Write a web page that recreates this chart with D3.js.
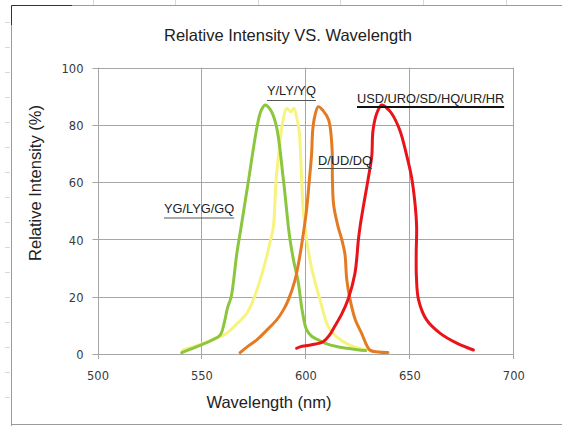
<!DOCTYPE html>
<html><head><meta charset="utf-8">
<script src="https://cdn.jsdelivr.net/npm/d3@7"></script>
<style>body{margin:0;background:#fff}svg{display:block}</style>
</head><body>
<svg id="c" width="562" height="426"></svg>
<script>
// ---- data ----
const xTicks = [500, 550, 600, 650, 700];
const yTicks = [0, 20, 40, 60, 80, 100];
const titleText = "Relative Intensity VS. Wavelength";
const xTitle = "Wavelength (nm)";
const yTitle = "Relative Intensity (%)";

const greenWl  = [540.5,545,550,555,559,561,562.5,564.3,567,569,572.5,576.9,578.7,580.6,583,585.9,589.4,591.8,592.6,594.5,596.4,598.5,600.6,603,606,610,615,620,625,629];
const greenInt = [0.5,1.8,3.2,4.8,6.6,11,16,20,35,44,60,80,85,87,85.5,80,61,44.5,40,32,25.8,15,8.4,6.2,5,3.6,2.6,2,1.5,1.2];

const yellowWl  = [541,548,555,562,567,571.8,575,578.2,581,583,584.6,585.9,587.5,589,591,593,594.5,596,597,598.2,599,600.6,603,607,611,615,621.5,627,632];
const yellowInt = [1.4,3,5,7.2,10.5,14.2,19,25.8,33,39,44.5,60.8,72,80.7,85.8,84.6,85.8,82,78,60.8,50,40,30,19,9.5,6,3,1.8,1.2];

const orangeWl  = [568.6,572,576.6,581,586.2,589.5,591.8,595,597.5,599,600.5,601.9,603,603.5,604.5,606.2,608.5,611.2,612.8,613,613.6,615.7,617.5,619,619.9,621.5,624,627,631,635,639.7];
const orangeInt = [0.5,2.5,4.9,8,11.9,15.5,18.9,25.8,35,42,50,60.8,70,78,83,86.4,85,81.7,72,60.8,52,44.5,40,35,26,19,12,7.3,1.4,0.7,0.5];

const redWl  = [595.8,597.4,603,608.5,611.5,614,617.5,620.5,623.8,625.5,626.3,628,630.1,631.9,632.5,634.3,636.7,639,641.5,645.5,648.5,651,652.8,653.5,653.3,653.4,654.4,658.3,664.7,672.8,680.8];
const redInt = [2,2.5,3.2,4.3,6.5,9.5,14,19,28,40,44.5,52,60.8,69,78,84,87,86,84,78,70,62,52,44.5,35,27,19,11.9,7.3,3.8,1.4];

const seriesNames  = ["YG/LYG/GQ", "Y/LY/YQ", "D/UD/DQ", "USD/URO/SD/HQ/UR/HR"];
const seriesColors = ["#8cc63e", "#f6f47e", "#e47b22", "#e8141a"];
// ---- chart ----
const svg = d3.select("#c");
const x = d3.scaleLinear().domain([500, 700]).range([97.5, 513.3]);
const y = d3.scaleLinear().domain([0, 100]).range([354, 67.7]);

// spreadsheet background remnants
const bg = svg.append("g").attr("stroke", "#d8d8d8").attr("stroke-width", 1);
[93, 175, 258, 340, 423, 506].forEach(v => bg.append("line").attr("x1", v + .5).attr("x2", v + .5).attr("y1", 0).attr("y2", 5));
[22, 47, 72, 97, 122, 147, 172, 197, 222, 247, 272, 297, 322, 347, 372, 397].forEach(v => bg.append("line").attr("x1", 5).attr("x2", 10).attr("y1", v + .5).attr("y2", v + .5));

// outer frame
svg.append("path").attr("d", "M11.5,426 V5.5 H562").attr("fill", "none").attr("stroke", "#9a9a9a");
svg.append("path").attr("d", "M11.5,25 V5.5 H72").attr("fill", "none").attr("stroke", "#333");
svg.append("line").attr("x1", 11).attr("x2", 562).attr("y1", 424.5).attr("y2", 424.5).attr("stroke", "#9a9a9a");

// gridlines
const grid = svg.append("g").attr("stroke", "#a6a6a6").attr("stroke-width", 1);
yTicks.forEach(t => grid.append("line").attr("x1", x(500) - 5).attr("x2", x(700)).attr("y1", Math.round(y(t)) + .5).attr("y2", Math.round(y(t)) + .5));
xTicks.forEach(t => grid.append("line").attr("x1", Math.round(x(t)) + .5).attr("x2", Math.round(x(t)) + .5).attr("y1", y(100)).attr("y2", y(0) + 5));

// axes (labels via d3 axes, domain hidden)
const yAx = svg.append("g").attr("transform", `translate(${x(500) - 14},0)`)
  .call(d3.axisLeft(y).tickValues(yTicks).tickSize(0).tickPadding(0));
const xAx = svg.append("g").attr("transform", `translate(0,${y(0) + 18})`)
  .call(d3.axisBottom(x).tickValues(xTicks).tickSize(0).tickPadding(0));
[yAx, xAx].forEach(a => {
  a.select(".domain").remove();
  a.selectAll("text").attr("font-family", "DejaVu Sans, sans-serif").attr("font-size", 11.5).attr("fill", "#3a3a3a");
});
yAx.selectAll("text").attr("dy", "0.4em");
xAx.selectAll("text").attr("dy", "0.71em");

// curves
const line = d3.line().x(d => x(d[0])).y(d => y(d[1])).curve(d3.curveCatmullRom.alpha(0.5));
const sets = [
  [yellowWl, yellowInt, 1],
  [greenWl, greenInt, 0],
  [orangeWl, orangeInt, 2],
  [redWl, redInt, 3]
];
sets.forEach(([wl, it, ci]) => {
  svg.append("path").datum(wl.map((w, i) => [w, it[i]]))
    .attr("d", line).attr("fill", "none")
    .attr("stroke", seriesColors[ci]).attr("stroke-width", 3)
    .attr("stroke-linejoin", "round").attr("stroke-linecap", "round");
});

// series labels with underlines
const labelPos = [
  {i: 0, x: 164, y: 213, u: 218, w: 1},
  {i: 1, x: 267, y: 95, u: 100.5, w: 1},
  {i: 2, x: 318, y: 165, u: 168.5, w: 1},
  {i: 3, x: 357, y: 103, u: 107, w: 2}
];
labelPos.forEach(p => {
  const t = svg.append("text").attr("x", p.x).attr("y", p.y)
    .attr("font-family", "Liberation Sans, Arial, sans-serif").attr("font-size", 12.8)
    .attr("fill", "#222").text(seriesNames[p.i]);
  const bb = t.node().getBBox();
  svg.append("line").attr("x1", p.x).attr("x2", p.x + bb.width).attr("y1", p.u).attr("y2", p.u)
    .attr("stroke", p.w > 1 ? "#111" : "#555").attr("stroke-width", p.w);
});

// titles
svg.append("text").attr("x", 288).attr("y", 41).attr("text-anchor", "middle")
  .attr("font-family", "Liberation Sans, Arial, sans-serif").attr("font-size", 16.5).attr("fill", "#222").text(titleText);
svg.append("text").attr("x", 269).attr("y", 408).attr("text-anchor", "middle")
  .attr("font-family", "Liberation Sans, Arial, sans-serif").attr("font-size", 16.5).attr("fill", "#222").text(xTitle);
svg.append("text").attr("transform", "translate(41,183) rotate(-90)").attr("text-anchor", "middle")
  .attr("font-family", "Liberation Sans, Arial, sans-serif").attr("font-size", 16.5).attr("fill", "#222").text(yTitle);
</script>
</body></html>
